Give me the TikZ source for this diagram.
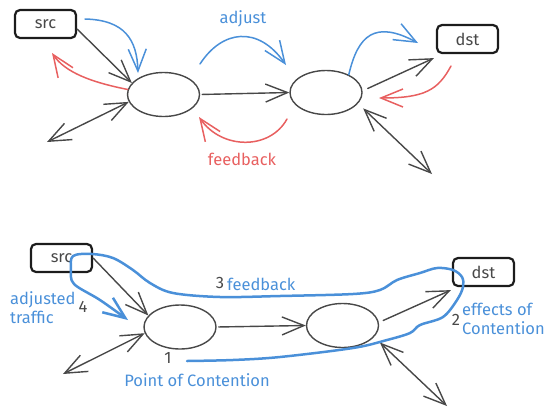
\documentclass[tikz,border=0pt]{standalone}
\usepackage{fontspec}
\setmainfont{Fira Sans}
\usetikzlibrary{arrows.meta,shapes.geometric,calc}
\definecolor{sblue}{RGB}{74,144,217}
\definecolor{sred}{RGB}{232,96,96}
\definecolor{sgray}{RGB}{72,72,72}
\definecolor{sdark}{RGB}{28,28,28}
\begin{document}
\begin{tikzpicture}[x=1pt,y=-1pt,
  box/.style={draw=sdark, line width=2.2pt, rounded corners=5pt, minimum width=61pt, minimum height=28pt, inner sep=0pt, text=sgray, font=\fontsize{16.5}{19}\selectfont},
  ell/.style={ellipse, draw=sgray, line width=1.4pt, minimum width=72pt, minimum height=44pt, inner sep=0pt},
  tip/.style={-{Straight Barb[length=22pt,width=18pt]}},
  tiptwo/.style={{Straight Barb[length=22pt,width=18pt]}-{Straight Barb[length=22pt,width=18pt]}},
  gl/.style={draw=sgray, line width=1.4pt, line cap=round, line join=round},
  bluel/.style={draw=sblue, line width=1.5pt, line cap=round, line join=round},
  redl/.style={draw=sred, line width=1.5pt, line cap=round, line join=round},
  loopl/.style={draw=sblue, line width=2.5pt, line cap=round, line join=round},
  lbl/.style={inner sep=0pt, font=\fontsize{16.5}{19}\selectfont},
  num/.style={inner sep=0pt, text=sgray, font=\fontsize{16.5}{19}\selectfont}
]
\useasboundingbox (0,0) rectangle (560,416);
% ---------- top ----------
\node[box] (src1) at (45.5,24) {src};
\node[ell] (e1) at (163.5,94.5) {};
\node[ell] (e2) at (326,92.5) {};
\node[box] (dst1) at (467.5,39) {dst};

\coordinate (b1s) at (85,19);
\coordinate (b1e) at (138,73);
\draw[bluel,tip] (b1s) .. controls (125,20) and (137,40) .. (b1e);
\coordinate (r1e) at (52,53);
\draw[redl,tip] (e1.172) .. controls (90,82) and (65,72) .. (r1e);
\coordinate (d1) at (47,142);
\draw[gl,tiptwo] (e1.-168) -- (d1);
\draw[gl,tip] (src1.-9) -- (e1.160);

\coordinate (a1s) at (200,64);
\coordinate (a1e) at (286,65);
\draw[bluel,tip] (a1s) .. controls (222,30) and (258,25) .. (a1e);
\node[lbl,text=sblue] (adj) at (243,19) {adjust};

\draw[gl,tip,shorten <=2pt] (e1.east) -- (e2.west);

\coordinate (f1s) at (287,119);
\coordinate (f1e) at (199,117);
\draw[redl,tip] (f1s) .. controls (270,150) and (222,150) .. (f1e);
\node[lbl,text=sred] (fb1) at (242,159) {feedback};

\coordinate (b2e) at (418,43);
\draw[bluel,tip] (e2.38) .. controls (358,35) and (375,20) .. (b2e);
\draw[gl,tip] ($(e2.east)+(5,-4)$) -- ($(dst1.south west)+(-2,4)$);
\coordinate (r2s) at (451,66);
\coordinate (r2e) at (379,98);
\draw[redl,tip] (r2s) .. controls (438,90) and (425,98) .. (r2e);
\coordinate (d2) at (432,174);
\draw[gl,tiptwo,shorten <=7pt] (e2.-19) -- (d2);

% ---------- bottom ----------
\node[box] (src2) at (61.5,258) {src};
\node[ell] (e3) at (180,327) {};
\node[ell] (e4) at (342.5,325.5) {};
\node[box] (dst2) at (483.5,272) {dst};

\draw[gl,tip] (src2.east) -- (e3.160);
\coordinate (d3) at (63,374);
\draw[gl,tiptwo] (e3.-170) -- (d3);
\draw[gl,tip,shorten <=2pt] (e3.east) -- (e4.west);
\draw[gl,tip] ($(e4.east)+(4,-5)$) -- ($(dst2.south west)+(-1,3)$);
\coordinate (d4) at (447,406);
\draw[gl,tiptwo,shorten <=8pt] (e4.-20) -- (d4);

\draw[loopl,tip] plot[smooth,tension=0.55] coordinates {
 (187,361) (233,360) (280,357) (353,348) (387,340) (410,333) (420,325)
 (443,317) (457,300) (463,287) (462,277) (453,270) (437,268) (420,273)
 (397,280) (380,290) (353,294) (280,296) (220,297) (173,293) (150,283)
 (133,270) (113,258) (92,254) (73,256) (71,270) (74,284) (100,300) (128,320)};

\node[lbl,text=sblue,align=left,anchor=west] (adjt) at (10,308) {adjusted\\traffic};
\node[num] (n4) at (83,307) {4};
\node[num] (n3) at (220,283) {3};
\node[lbl,text=sblue,anchor=west] (fb2) at (227,284) {feedback};
\node[num] (n1) at (168,358) {1};
\node[lbl,text=sblue] (poc) at (197,380) {Point of Contention};
\node[num] (n2) at (456,320) {2};
\node[lbl,text=sblue,align=left,anchor=west] (eoc) at (462,319) {effects of\\Contention};
\end{tikzpicture}
\end{document}
